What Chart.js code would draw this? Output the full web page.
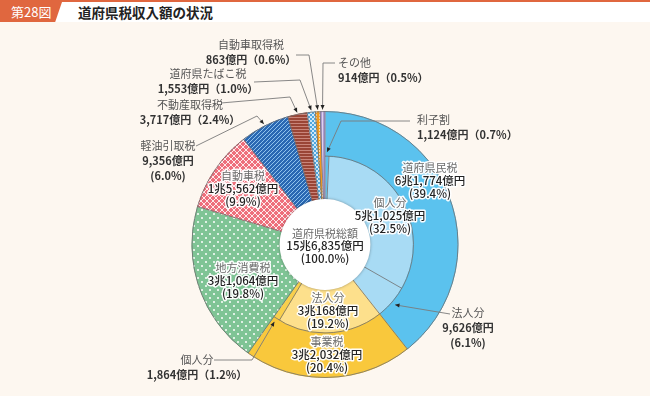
<!DOCTYPE html>
<html lang="ja">
<head>
<meta charset="utf-8">
<title>道府県税収入額の状況</title>
<script src="https://cdn.jsdelivr.net/npm/chart.js@4.4.1/dist/chart.umd.min.js"></script>
<style>
  html, body { margin: 0; padding: 0; background: #fdf7f0; }
  #wrap { position: relative; width: 650px; height: 396px; overflow: hidden;
          font-family: "Noto Sans CJK JP", "Noto Sans", sans-serif; }
  #head { position: absolute; left: 0; top: 0; width: 650px; height: 22px; background: #fff;
          border-top: 2px solid #e0673f; box-sizing: border-box; }
  #tab { position: absolute; left: 0; top: 0; width: 62px; height: 20px; background: #e0673f;
         clip-path: polygon(0 0, 100% 0, 89% 100%, 0 100%);
         color: #fff; font-size: 13px; line-height: 20px; padding-left: 11px; box-sizing: border-box; }
  #title { position: absolute; left: 78px; top: 0; font-size: 13.5px; line-height: 20px; color: #222; font-weight: bold; }
  #c { position: absolute; left: 0; top: 0; }
</style>
</head>
<body>
<div id="wrap">
  <div id="head"><div id="tab">第28図</div><div id="title">道府県税収入額の状況</div></div>
  <canvas id="c" width="650" height="396"></canvas>
</div>
<script>
// ==================== データ（億円） ====================
const outerLabels = ["道府県民税", "事業税", "地方消費税", "自動車税", "軽油引取税",
                     "不動産取得税", "道府県たばこ税", "自動車取得税", "その他"];
const outerValues = [61774, 32032, 31064, 15562, 9356, 3717, 1553, 863, 914];
const outerShares = [39.4, 20.4, 19.8, 9.9, 6.0, 2.4, 1.0, 0.6, 0.5];

// 内側の輪：道府県民税と事業税だけ内訳に分かれる
const innerLabels = ["利子割", "個人分", "法人分", "法人分", "個人分", "地方消費税", "自動車税",
                     "軽油引取税", "不動産取得税", "道府県たばこ税", "自動車取得税", "その他"];
const innerValues = [1124, 51025, 9626, 30168, 1864, 31064, 15562, 9356, 3717, 1553, 863, 914];
const innerShares = [0.7, 32.5, 6.1, 19.2, 1.2, 19.8, 9.9, 6.0, 2.4, 1.0, 0.6, 0.5];

const totalLabel = "道府県税総額";
const totalValue = 156835;
const totalShare = 100.0;

// ==================== 模様 ====================
const canvas = document.getElementById("c");
const ctx = canvas.getContext("2d");

function patron(size, fondo, dibujar) {
  const c = document.createElement("canvas");
  c.width = c.height = size;
  const g = c.getContext("2d");
  g.fillStyle = fondo;
  g.fillRect(0, 0, size, size);
  dibujar(g);
  return ctx.createPattern(c, "repeat");
}

const pDots = patron(8, "#7fc495", g => {
  g.fillStyle = "#ffffff";
  [[2, 2], [6, 6]].forEach(p => { g.beginPath(); g.arc(p[0], p[1], 1, 0, Math.PI * 2); g.fill(); });
});
const pCheckRed = patron(6, "#ee6f7c", g => {
  g.strokeStyle = "rgba(255,255,255,0.85)";
  g.lineWidth = 1;
  g.beginPath(); g.moveTo(0, 0); g.lineTo(6, 6); g.moveTo(6, 0); g.lineTo(0, 6); g.stroke();
});
const pDiagBlue = patron(4, "#2a68b3", g => {
  g.strokeStyle = "#8fc2ec";
  g.lineWidth = 1;
  g.beginPath(); g.moveTo(-1, 5); g.lineTo(5, -1); g.moveTo(-1, 1); g.lineTo(1, -1); g.moveTo(3, 5); g.lineTo(5, 3); g.stroke();
});
const pStripeBrown = patron(3, "#9a4536", g => {
  g.fillStyle = "#c9857a";
  g.fillRect(0, 0, 3, 1);
});
const pCheckBlue = patron(4, "#cfe8f8", g => {
  g.fillStyle = "#4fa6df";
  g.fillRect(0, 0, 2, 2);
  g.fillRect(2, 2, 2, 2);
});
const pOrange = patron(3, "#f39a1c", g => {
  g.fillStyle = "#fbd9a6";
  g.fillRect(1, 0, 1, 2);
});
const pLavender = patron(3, "#ad9bd3", g => {
  g.fillStyle = "#ddd3ef";
  g.fillRect(1, 0, 1, 3);
});

const azul = "#5bc2ee";
const azulClaro = "#a8dbf4";
const amarillo = "#f9c83c";
const amarilloClaro = "#fde08c";
const amarilloMedio = "#f8cf4c";

const outerColors = [azul, amarillo, pDots, pCheckRed, pDiagBlue, pStripeBrown, pCheckBlue, pOrange, pLavender];
const innerColors = [azul, azulClaro, azulClaro, amarilloClaro, amarilloMedio,
                     pDots, pCheckRed, pDiagBlue, pStripeBrown, pCheckBlue, pOrange, pLavender];

// ==================== 書式 ====================
function okuEn(v) {
  if (v >= 10000) {
    const cho = Math.floor(v / 10000);
    const oku = v % 10000;
    return cho + "兆" + oku.toLocaleString("en-US") + "億円";
  }
  return v.toLocaleString("en-US") + "億円";
}
const pct = s => "(" + s.toFixed(1) + "%)";
const pctZen = s => "（" + s.toFixed(1) + "%）";

function datos(ds, i) {
  return ds === 0
    ? { name: outerLabels[i], value: outerValues[i], share: outerShares[i] }
    : { name: innerLabels[i], value: innerValues[i], share: innerShares[i] };
}

// 外側ラベル（位置はレイアウト、矢印の先は弧から計算）
const etiquetasFuera = [
  { ds: 0, i: 7, x: 251, y: 45, align: "center", rows: 2, path: [[296, 55], [309, 55]] },
  { ds: 0, i: 6, x: 208, y: 74, align: "center", rows: 2, path: [[254, 82], [300, 80]] },
  { ds: 0, i: 5, x: 190, y: 105, align: "center", rows: 2, path: [[221, 103], [290, 97]] },
  { ds: 0, i: 4, x: 168, y: 146, align: "center", rows: 3, path: [[196, 146], [257, 116]] },
  { ds: 0, i: 8, x: 338, y: 63, align: "left", rows: 2, path: [[335, 63], [323, 63]] },
  { ds: 1, i: 0, x: 417, y: 120, align: "left", rows: 2, path: [[410, 121], [341, 121]] },
  { ds: 1, i: 2, x: 468, y: 313, align: "center", rows: 3, path: [[450, 314]] },
  { ds: 1, i: 4, x: 197, y: 360, align: "center", rows: 2, path: [[214, 360], [252, 360]] }
];

// 輪の中のラベル
const etiquetasDentro = [
  { ds: 0, i: 0, x: 430, y: 168 },
  { ds: 1, i: 1, x: 390, y: 203 },
  { ds: 1, i: 3, x: 328, y: 298 },
  { ds: 0, i: 1, x: 327, y: 342 },
  { ds: 0, i: 2, x: 243, y: 268 },
  { ds: 0, i: 3, x: 243, y: 176 }
];

// ==================== 描画プラグイン ====================
function radial(c, cx, cy, ang, r1, r2) {
  c.beginPath();
  c.moveTo(cx + Math.cos(ang) * r1, cy + Math.sin(ang) * r1);
  c.lineTo(cx + Math.cos(ang) * r2, cy + Math.sin(ang) * r2);
  c.stroke();
}

function textoHalo(c, t, x, y, color) {
  c.lineWidth = 3;
  c.lineJoin = "round";
  c.strokeStyle = "rgba(255,255,255,0.95)";
  c.strokeText(t, x, y);
  c.fillStyle = color;
  c.fillText(t, x, y);
}

const anilloPlugin = {
  id: "anillo",
  afterDatasetsDraw(chart) {
    const c = chart.ctx;
    const outer = chart.getDatasetMeta(0).data;
    const inner = chart.getDatasetMeta(1).data;
    const cx = outer[0].x, cy = outer[0].y;
    const R = outer[0].outerRadius, rMid = outer[0].innerRadius, r0 = inner[0].innerRadius;

    c.save();
    c.strokeStyle = "#6e6e6e";
    c.lineWidth = 0.8;
    outer.forEach(a => radial(c, cx, cy, a.startAngle, r0, R));
    [1, 2, 4].forEach(i => radial(c, cx, cy, inner[i].startAngle, r0, rMid));
    c.beginPath();
    c.arc(cx, cy, rMid, outer[0].startAngle, outer[1].endAngle);
    c.stroke();
    c.beginPath();
    c.arc(cx, cy, R, 0, Math.PI * 2);
    c.stroke();

    // 中央の白い円
    c.shadowColor = "rgba(0,0,0,0.35)";
    c.shadowBlur = 3;
    c.fillStyle = "#ffffff";
    c.beginPath();
    c.arc(cx, cy, r0 + 1.5, 0, Math.PI * 2);
    c.fill();
    c.restore();
  },
  afterDraw(chart) {
    const c = chart.ctx;
    const metas = [chart.getDatasetMeta(0).data, chart.getDatasetMeta(1).data];
    const cx = metas[0][0].x, cy = metas[0][0].y;
    const R = metas[0][0].outerRadius, rMid = metas[0][0].innerRadius;
    const fuente = "11px 'Noto Sans CJK JP', sans-serif";
    const fuenteB = "bold 11px 'Noto Sans CJK JP', sans-serif";

    c.save();
    c.textBaseline = "middle";

    // 引き出し線と矢印
    etiquetasFuera.forEach(e => {
      const arc = metas[e.ds][e.i];
      const ang = (arc.startAngle + arc.endAngle) / 2;
      const r = e.ds === 0 ? R + 2 : rMid + 4;
      const tip = [cx + Math.cos(ang) * r, cy + Math.sin(ang) * r];
      const pts = e.path.concat([tip]);
      c.strokeStyle = "#7a7a7a";
      c.lineWidth = 0.9;
      c.beginPath();
      c.moveTo(pts[0][0], pts[0][1]);
      pts.slice(1).forEach(p => c.lineTo(p[0], p[1]));
      c.stroke();
      const prev = pts[pts.length - 2];
      const dir = Math.atan2(tip[1] - prev[1], tip[0] - prev[0]);
      c.fillStyle = "#222";
      c.beginPath();
      c.moveTo(tip[0], tip[1]);
      c.lineTo(tip[0] - Math.cos(dir) * 4.5 + Math.sin(dir) * 2, tip[1] - Math.sin(dir) * 4.5 - Math.cos(dir) * 2);
      c.lineTo(tip[0] - Math.cos(dir) * 4.5 - Math.sin(dir) * 2, tip[1] - Math.sin(dir) * 4.5 + Math.cos(dir) * 2);
      c.closePath();
      c.fill();

      const d = datos(e.ds, e.i);
      c.textAlign = e.align;
      c.font = fuente;
      c.fillStyle = "#555";
      c.fillText(d.name, e.x, e.y);
      c.font = fuenteB;
      c.fillStyle = "#333";
      if (e.rows === 2) {
        c.fillText(okuEn(d.value) + pctZen(d.share), e.x, e.y + 15);
      } else {
        c.fillText(okuEn(d.value), e.x, e.y + 15);
        c.fillText(pct(d.share), e.x, e.y + 30);
      }
    });

    // 輪の中のラベル
    c.textAlign = "center";
    etiquetasDentro.forEach(e => {
      const d = datos(e.ds, e.i);
      c.font = fuente;
      textoHalo(c, d.name, e.x, e.y, "#6a6a6a");
      c.font = "500 11.5px 'Noto Sans CJK JP', sans-serif";
      textoHalo(c, okuEn(d.value), e.x, e.y + 13, "#222");
      textoHalo(c, pct(d.share), e.x, e.y + 26, "#222");
    });

    // 中央
    c.font = fuente;
    c.fillStyle = "#6a6a6a";
    c.fillText(totalLabel, cx, cy - 11);
    c.font = "500 11.5px 'Noto Sans CJK JP', sans-serif";
    c.fillStyle = "#222";
    c.fillText(okuEn(totalValue), cx, cy + 1);
    c.fillText(pct(totalShare), cx, cy + 14);
    c.restore();
  }
};

// ==================== グラフ ====================
new Chart(ctx, {
  type: "doughnut",
  data: {
    labels: innerLabels,
    datasets: [
      {
        label: "税目",
        data: outerValues,
        backgroundColor: outerColors,
        borderColor: outerColors,
        borderWidth: 1
      },
      {
        label: "内訳",
        data: innerValues,
        backgroundColor: innerColors,
        borderColor: innerColors,
        borderWidth: 1
      }
    ]
  },
  options: {
    responsive: false,
    animation: false,
    cutout: "33%",
    layout: { padding: { top: 111, bottom: 18, left: 100, right: 100 } },
    plugins: { legend: { display: false }, tooltip: { enabled: false } }
  },
  plugins: [anilloPlugin]
});
</script>
</body>
</html>
